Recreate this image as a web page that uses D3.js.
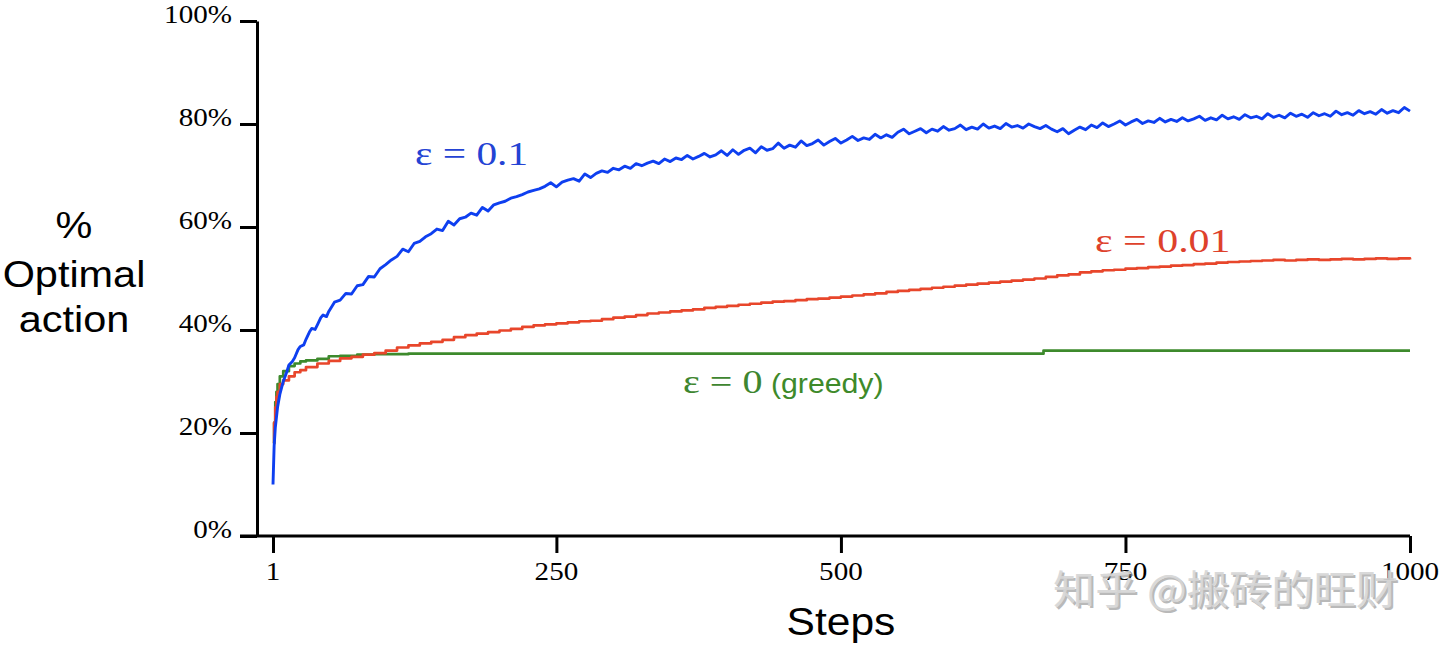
<!DOCTYPE html>
<html><head><meta charset="utf-8">
<script src="https://cdn.jsdelivr.net/npm/d3@7/dist/d3.min.js"></script>
<style>html,body{margin:0;padding:0;background:#fff;}svg{display:block}</style>
</head><body>
<svg id="chart" width="1440" height="647"></svg>
<script>
// ---------- data ----------
const xTicks = [1, 250, 500, 750, 1000];
const xTickLabels = ["1", "250", "500", "750", "1000"];
const yTicks = [0, 20, 40, 60, 80, 100];
const yTickLabels = ["0%", "20%", "40%", "60%", "80%", "100%"];

// epsilon = 0.1  [step, % optimal action]
const blueSeries = [[1,10],[2,17.5],[3,21],[4,23],[5,25],[7,27.5],[10,30],[13,31.8],[15,33.2],[18,33.9],[20,34.6],[23,36.2],[25,36.8],[28,37.1],[30,38.2],[33,39.6],[35,40.3],[38,40.1],[40,41.0],[43,42.4],[45,42.9],[48,42.6],[50,43.6],[55,45.4],[60,45.8],[65,47.1],[70,47.0],[75,48.6],[80,48.8],[85,50.4],[90,50.3],[95,51.9],[100,52.7],[105,53.6],[110,54.3],[115,55.7],[120,55.2],[125,56.8],[130,57.2],[135,58.1],[140,58.7],[145,59.6],[150,59.3],[155,61.1],[160,60.4],[165,61.6],[170,61.9],[175,62.7],[180,62.3],[185,63.8],[190,63.1],[195,64.3],[200,64.7],[205,65.0],[210,65.6],[215,65.9],[220,66.3],[225,66.8],[230,67.1],[235,67.4],[240,67.9],[245,68.6],[250,67.8],[255,68.7],[260,69.1],[265,69.4],[270,68.9],[275,70.3],[280,69.6],[285,70.4],[290,70.9],[295,70.6],[300,71.4],[305,71.1],[310,71.8],[315,71.4],[320,72.3],[325,71.9],[330,72.4],[335,72.8],[340,72.3],[345,73.2],[350,72.7],[355,73.4],[360,73.1],[365,73.9],[370,73.2],[375,73.7],[380,74.3],[385,73.6],[390,74.0],[395,74.8],[400,73.9],[405,75.0],[410,74.1],[415,74.9],[420,75.3],[425,74.4],[430,75.6],[435,74.9],[440,75.2],[445,76.3],[450,75.3],[455,75.9],[460,75.5],[465,76.7],[470,75.8],[475,76.2],[480,76.9],[485,75.9],[490,76.6],[495,77.2],[500,76.3],[505,76.9],[510,77.6],[515,76.8],[520,77.3],[525,77.0],[530,78.0],[535,77.3],[540,77.9],[545,77.4],[550,78.4],[555,79.0],[560,78.1],[565,78.6],[570,79.1],[575,78.3],[580,79.0],[585,78.6],[590,79.5],[595,78.8],[600,79.1],[605,79.8],[610,78.9],[615,79.4],[620,79.0],[625,80.0],[630,79.2],[635,79.6],[640,79.1],[645,80.1],[650,79.4],[655,79.7],[660,79.2],[665,80.0],[670,79.5],[675,79.1],[680,79.7],[685,79.0],[690,78.5],[695,79.1],[700,78.1],[705,78.8],[710,79.4],[715,78.9],[720,79.8],[725,79.3],[730,80.2],[735,79.5],[740,80.0],[745,80.6],[750,79.8],[755,80.4],[760,80.9],[765,80.1],[770,80.6],[775,80.3],[780,81.1],[785,80.4],[790,80.9],[795,80.5],[800,81.2],[805,80.6],[810,81.0],[815,81.5],[820,80.7],[825,81.2],[830,80.8],[835,81.7],[840,81.0],[845,81.4],[850,80.9],[855,81.8],[860,81.2],[865,81.5],[870,81.0],[875,82.0],[880,81.3],[885,81.7],[890,81.2],[895,82.1],[900,81.5],[905,81.9],[910,81.3],[915,82.2],[920,81.6],[925,82.0],[930,81.5],[935,82.5],[940,81.8],[945,82.2],[950,81.7],[955,82.6],[960,82.0],[965,82.4],[970,81.9],[975,82.8],[980,82.1],[985,82.6],[990,82.2],[995,83.2],[1000,82.5]];

// epsilon = 0.01
const redSeries = [[1,18],[2,22],[3,25],[4,27],[5,28],[7,29.5],[10,30.2],[15,31],[20,31.8],[25,32.2],[30,32.8],[40,33.5],[50,34],[60,34.5],[70,34.8],[80,35.2],[90,35.5],[100,36],[110,36.6],[120,37],[130,37.4],[140,37.7],[150,38.1],[160,38.6],[170,39],[180,39.3],[190,39.6],[200,39.9],[210,40.2],[220,40.6],[230,40.9],[240,41.1],[250,41.3],[260,41.5],[270,41.7],[280,41.8],[290,42.1],[300,42.4],[310,42.6],[320,42.9],[330,43.2],[340,43.4],[350,43.6],[360,43.8],[370,44.0],[380,44.3],[390,44.5],[400,44.7],[410,44.9],[420,45.1],[430,45.3],[440,45.5],[450,45.6],[460,45.8],[470,46.0],[480,46.1],[490,46.3],[500,46.5],[510,46.7],[520,46.9],[530,47.1],[540,47.4],[550,47.6],[560,47.8],[570,48.0],[580,48.2],[590,48.4],[600,48.6],[610,48.8],[620,49.0],[630,49.2],[640,49.4],[650,49.6],[660,49.8],[670,50.0],[680,50.3],[690,50.6],[700,50.8],[710,51.2],[720,51.4],[730,51.6],[740,51.7],[750,51.9],[760,52.0],[770,52.2],[780,52.3],[790,52.5],[800,52.6],[810,52.8],[820,52.9],[830,53.1],[840,53.2],[850,53.3],[860,53.4],[870,53.5],[880,53.6],[890,53.5],[900,53.6],[910,53.7],[920,53.6],[930,53.7],[940,53.8],[950,53.7],[960,53.8],[970,53.9],[980,53.8],[990,53.9],[1000,53.7]];

// epsilon = 0 (greedy)
const greenSeries = [[1,18],[2,22],[3,26],[4,28],[5,29.5],[7,31],[10,32],[15,33],[20,33.5],[25,33.9],[30,34.1],[40,34.4],[50,34.9],[60,35.0],[75,35.2],[90,35.3],[120,35.4],[677,35.4],[678,36.0],[1000,36.0]];

const seriesLabels = ["ε = 0.1", "ε = 0.01", "ε = 0"];

// ---------- drawing ----------
const svg = d3.select("#chart");
const axisX = 257, axisBottom = 536;
const x = d3.scaleLinear().domain([1, 1000]).range([273, 1410]);
const y = d3.scaleLinear().domain([0, 100]).range([536, 21]);
const SERIF = "'Liberation Serif','DejaVu Serif',serif";
const SANS = "'Liberation Sans',Arial,sans-serif";
const SX = 1.12;

function label(parent, tx, ty, text, o) {
  return parent.append("text")
    .attr("transform", `translate(${tx},${ty}) scale(${o.sx || SX},1)`)
    .attr("text-anchor", o.anchor || "start")
    .attr("font-family", o.family || SERIF)
    .attr("font-size", o.size)
    .attr("fill", o.fill || "#000")
    .text(text);
}

// axes
const gy = svg.append("g").attr("transform", `translate(${axisX},0)`)
  .call(d3.axisLeft(y).tickValues(yTicks).tickSize(17).tickSizeOuter(0).tickFormat(""));
const gx = svg.append("g").attr("transform", `translate(0,${axisBottom})`)
  .call(d3.axisBottom(x).tickValues(xTicks).tickSize(17).tickSizeOuter(0).tickFormat(""));
gx.select(".domain").attr("d", `M${axisX - 17},0H${x(1000)}`);
[gx, gy].forEach(g => {
  g.selectAll("path,line").attr("stroke", "#000").attr("stroke-width", 3);
});

yTicks.forEach((t, i) => label(svg, 232, y(t) + 2, yTickLabels[i], {anchor: "end", size: 26}));
xTicks.forEach((t, i) => label(svg, x(t), 580, xTickLabels[i], {anchor: "middle", size: 26}));

// axis titles
label(svg, 841, 635, "Steps", {anchor: "middle", size: 38, family: SANS});
label(svg, 74, 238, "%", {anchor: "middle", size: 37, family: SANS});
label(svg, 74, 287, "Optimal", {anchor: "middle", size: 37, family: SANS});
label(svg, 74, 332, "action", {anchor: "middle", size: 37, family: SANS});

// lines
const lineLinear = d3.line().x(d => x(d[0])).y(d => y(d[1])).curve(d3.curveLinear);
const lineStep = d3.line().x(d => x(d[0])).y(d => y(d[1])).curve(d3.curveStepAfter);
svg.append("path").attr("d", lineStep(greenSeries)).attr("fill", "none")
  .attr("stroke", "#3d8a2c").attr("stroke-width", 2.7).attr("stroke-linejoin", "round");
svg.append("path").attr("d", lineStep(redSeries)).attr("fill", "none")
  .attr("stroke", "#e8462b").attr("stroke-width", 2.7).attr("stroke-linejoin", "round");
svg.append("path").attr("d", lineLinear(blueSeries)).attr("fill", "none")
  .attr("stroke", "#0e3ff0").attr("stroke-width", 2.9).attr("stroke-linejoin", "round");

// series labels
label(svg, 415, 165, seriesLabels[0], {size: 33, fill: "#2443d4"}).attr("textLength", 101).attr("lengthAdjust", "spacingAndGlyphs");
label(svg, 1095, 252, seriesLabels[1], {size: 33, fill: "#de412b"}).attr("textLength", 121).attr("lengthAdjust", "spacingAndGlyphs");
label(svg, 683, 393, seriesLabels[2], {size: 33, fill: "#3e8630"}).attr("textLength", 71).attr("lengthAdjust", "spacingAndGlyphs");
label(svg, 771, 393, "(greedy)", {size: 28, family: SANS, fill: "#3e8a2a", sx: 1.08});

// watermark
const wm = "知乎 @搬砖的旺财";
svg.append("text").attr("x", 1055).attr("y", 606)
  .attr("font-family", "'Noto Sans CJK SC',sans-serif").attr("font-size", 40)
  .attr("textLength", 345).attr("lengthAdjust", "spacingAndGlyphs")
  .attr("fill", "#8c8c8c").attr("opacity", 0.6).text(wm);
svg.append("text").attr("x", 1053).attr("y", 604)
  .attr("font-family", "'Noto Sans CJK SC',sans-serif").attr("font-size", 40)
  .attr("textLength", 345).attr("lengthAdjust", "spacingAndGlyphs")
  .attr("fill", "#d6d6d6").attr("opacity", 0.92).text(wm);
</script>
</body></html>
